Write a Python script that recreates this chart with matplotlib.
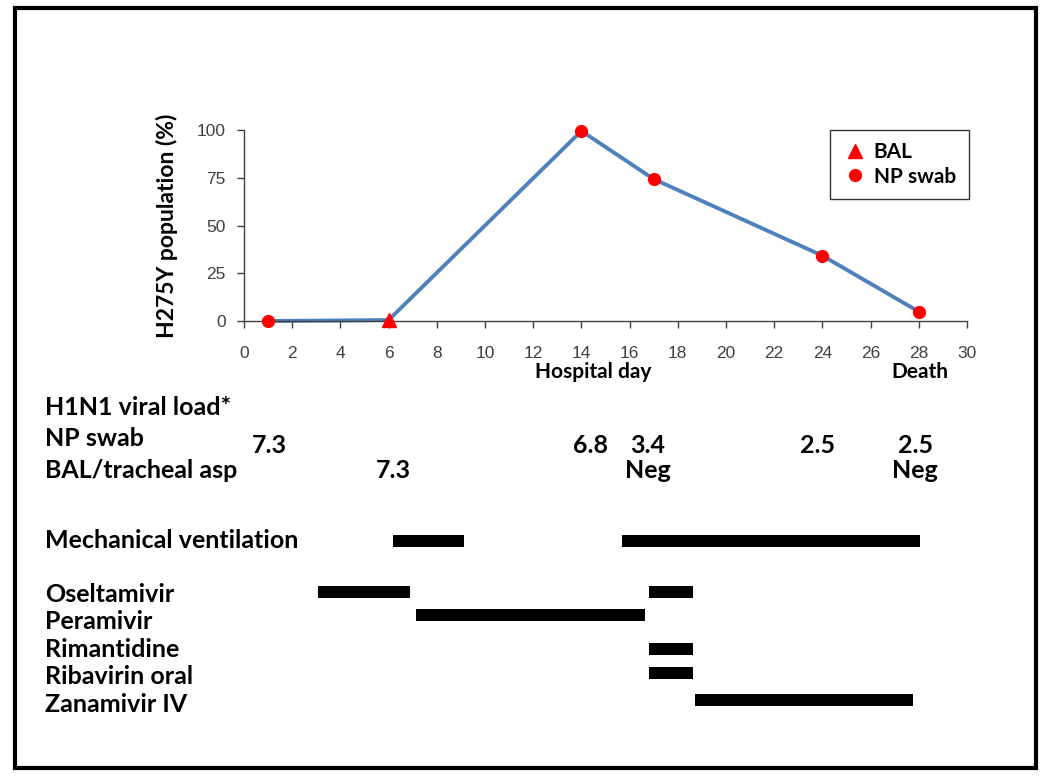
import matplotlib
matplotlib.use("Agg")
import matplotlib.pyplot as plt
from matplotlib.patches import Rectangle
from matplotlib.transforms import blended_transform_factory

# H275Y population data
line_days = [1, 6, 14, 17, 24, 28]
line_pct = [0, 0.5, 99.5, 74.3, 34.2, 4.9]
bal_days = [6]
bal_pct = [0.5]
np_days = [1, 14, 17, 24, 28]
np_pct = [0, 99.5, 74.3, 34.2, 4.9]

# viral load (text centered near sample day)
np_load_days = [1.07, 14.36, 16.75, 23.8, 27.85]
np_load = ['7.3', '6.8', '3.4', '2.5', '2.5']
bal_load_days = [6.2, 16.75, 27.85]
bal_load = ['7.3', 'Neg', 'Neg']

# therapy intervals (start day, end day)
vent = [(6.17, 9.12), (15.67, 28.04)]
drugs = ['Oseltamivir', 'Peramivir', 'Rimantidine', 'Ribavirin oral', 'Zanamivir IV']
drug_spans = [
    [(3.06, 6.88), (16.79, 18.62)],
    [(7.13, 16.63)],
    [(16.79, 18.62)],
    [(16.79, 18.62)],
    [(18.7, 27.76)],
]

W, H = 1050, 776
fig = plt.figure(figsize=(10.5, 7.76), dpi=100)
bold = dict(family='Lato', fontweight='bold', color='black')

ax = fig.add_axes([244 / W, 1 - 321 / H, (967 - 244) / W, (321 - 130) / H])
ax.plot(line_days, line_pct, color='#4F81BD', linewidth=2.8, zorder=2, clip_on=False)
ax.plot(bal_days, bal_pct, '^', color='#FF0000', markersize=10, linestyle='none',
        label='BAL', zorder=3, clip_on=False)
ax.plot(np_days, np_pct, 'o', color='#FF0000', markersize=8.5, linestyle='none',
        label='NP swab', zorder=3, clip_on=False)
ax.set_xlim(0, 30)
ax.set_ylim(0, 100)
ax.set_xticks(range(0, 31, 2))
ax.set_yticks([0, 25, 50, 75, 100])
for s in ('top', 'right'):
    ax.spines[s].set_visible(False)
for s in ('left', 'bottom'):
    ax.spines[s].set_color('#404040')
    ax.spines[s].set_linewidth(1.0)
ax.tick_params(axis='both', direction='out', length=5, width=1, color='#404040',
               labelsize=12.5, labelcolor='#404040')
ax.tick_params(axis='x', pad=13)
ax.tick_params(axis='y', pad=8)
for t in ax.get_xticklabels() + ax.get_yticklabels():
    t.set_family('Liberation Sans')
ax.set_ylabel('H275Y population (%)', fontsize=16.5, labelpad=14, **bold)
leg = ax.legend(loc='upper left', bbox_to_anchor=((830 - 244) / (967 - 244), 1.0),
                frameon=True, fancybox=False, edgecolor='black', handletextpad=0.3,
                borderpad=0.6, labelspacing=0.2, prop=dict(family='Lato', weight='bold', size=15),
                handlelength=1.2, borderaxespad=0)
leg.get_frame().set_linewidth(1.0)

# lower panel: same day scale, y in pixel rows
bx = fig.add_axes([244 / W, 0, (967 - 244) / W, 1])
bx.set_xlim(0, 30)
bx.set_ylim(H, 0)
bx.axis('off')
lab = blended_transform_factory(fig.transFigure, bx.transData)

bx.text(593 / W, 378, 'Hospital day', ha='center', va='baseline', fontsize=15,
        transform=lab, **bold)
bx.text(920 / W, 378, 'Death', ha='center', va='baseline', fontsize=15,
        transform=lab, **bold)

fs = 18
bx.text(45 / W, 415, 'H1N1 viral load*', va='baseline', fontsize=fs, transform=lab, **bold)
bx.text(45 / W, 446, 'NP swab', va='baseline', fontsize=fs, transform=lab, **bold)
bx.text(45 / W, 478, 'BAL/tracheal asp', va='baseline', fontsize=fs, transform=lab, **bold)
for d, v in zip(np_load_days, np_load):
    bx.text(d, 453, v, ha='center', va='baseline', fontsize=fs, **bold)
for d, v in zip(bal_load_days, bal_load):
    bx.text(d, 478, v, ha='center', va='baseline', fontsize=fs, **bold)

bx.text(45 / W, 548, 'Mechanical ventilation', va='baseline', fontsize=fs, transform=lab, **bold)
for a, b in vent:
    bx.barh(541, b - a, left=a, height=12, color='black')

drug_rows = [592, 615, 649, 673, 700]
drug_base = [602, 629, 657, 684, 712]
for name, spans, yc, yb in zip(drugs, drug_spans, drug_rows, drug_base):
    bx.text(45 / W, yb, name, va='baseline', fontsize=fs, transform=lab, **bold)
    for a, b in spans:
        bx.barh(yc, b - a, left=a, height=12, color='black')

# outer frame
fig.patches.append(Rectangle((15 / W, 1 - 768 / H), (1036 - 15) / W, (768 - 8) / H,
                             transform=fig.transFigure, fill=False, edgecolor='black',
                             linewidth=3))

fig.savefig('out.png', dpi=100)
